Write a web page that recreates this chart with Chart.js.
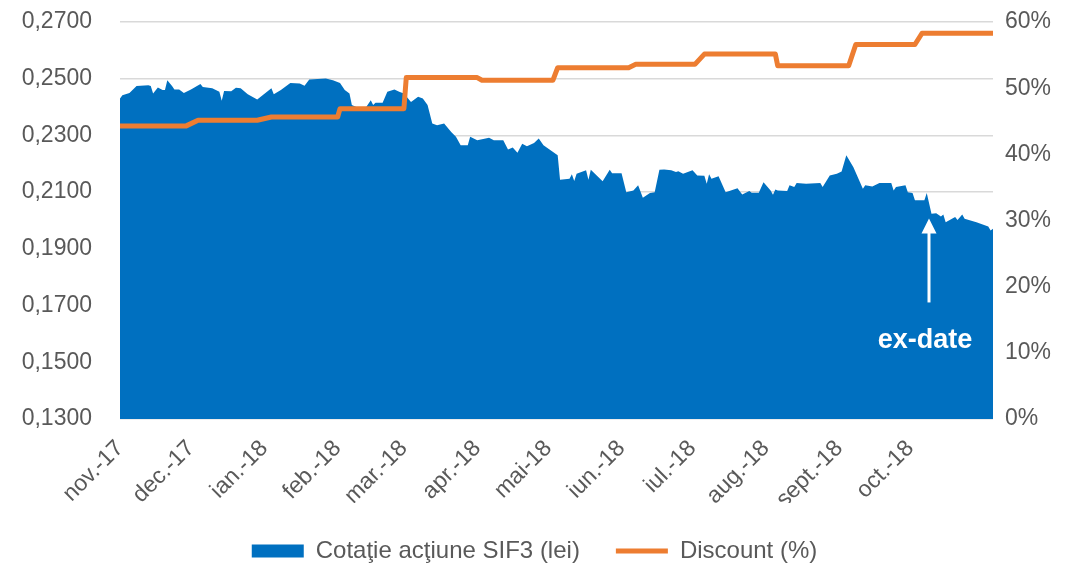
<!DOCTYPE html>
<html>
<head>
<meta charset="utf-8">
<script src="https://cdn.jsdelivr.net/npm/chart.js@4.4.1/dist/chart.umd.min.js"></script>
<style>
  body { margin: 0; background: #fff; }
</style>
</head>
<body>
<canvas id="chart" width="1069" height="565"></canvas>
<script>
// days counted from 1 nov. 2017
const priceDays = [0, 1, 4, 7, 12, 13, 14, 16, 18, 19, 20, 22, 23, 25, 27, 30, 34, 35, 39, 42, 43, 44, 47, 49, 51, 54, 58, 64, 65, 68, 72, 76, 78, 80, 87, 90, 93, 95, 97, 98, 101, 104, 106, 107, 108, 111, 113, 116, 118, 120, 123, 126, 128, 130, 132, 134, 137, 140, 142, 144, 147, 148, 151, 156, 158, 162, 164, 166, 168, 170, 172, 175, 177, 179, 182, 185, 186, 190, 191, 192, 193, 197, 198, 199, 204, 207, 208, 212, 214, 217, 219, 221, 224, 226, 228, 230, 233, 235, 236, 238, 242, 244, 247, 248, 249, 250, 253, 256, 261, 263, 266, 267, 270, 272, 275, 276, 277, 278, 282, 283, 285, 286, 290, 296, 297, 300, 303, 305, 307, 310, 314, 315, 318, 321, 326, 327, 328, 332, 333, 335, 336, 340, 341, 343, 345, 347, 348, 349, 353, 354, 356, 357, 362, 367, 368, 369];
const priceValues = [0.2430, 0.2442, 0.2450, 0.2474, 0.2477, 0.2474, 0.2448, 0.2469, 0.2460, 0.2460, 0.2495, 0.2474, 0.2462, 0.2462, 0.2450, 0.2462, 0.2481, 0.2471, 0.2466, 0.2454, 0.2422, 0.2457, 0.2456, 0.2468, 0.2466, 0.2445, 0.2427, 0.2466, 0.2445, 0.2460, 0.2485, 0.2483, 0.2475, 0.2497, 0.2501, 0.2495, 0.2485, 0.2460, 0.2448, 0.2407, 0.2396, 0.2399, 0.2424, 0.2407, 0.2415, 0.2415, 0.2454, 0.2462, 0.2454, 0.2448, 0.2418, 0.2436, 0.2430, 0.2407, 0.2342, 0.2336, 0.2342, 0.2312, 0.2295, 0.2265, 0.2265, 0.2295, 0.2283, 0.2292, 0.2283, 0.2283, 0.2250, 0.2257, 0.2239, 0.2271, 0.2262, 0.2273, 0.2289, 0.2265, 0.2248, 0.2230, 0.2144, 0.2147, 0.2163, 0.2139, 0.2165, 0.2177, 0.2144, 0.2179, 0.2138, 0.2179, 0.2167, 0.2167, 0.2100, 0.2106, 0.2124, 0.2080, 0.2097, 0.2100, 0.2179, 0.2180, 0.2177, 0.2171, 0.2174, 0.2165, 0.2177, 0.2159, 0.2158, 0.2130, 0.2163, 0.2147, 0.2156, 0.2100, 0.2114, 0.2092, 0.2104, 0.2098, 0.2098, 0.2135, 0.2106, 0.2091, 0.2109, 0.2106, 0.2104, 0.2124, 0.2118, 0.2132, 0.2130, 0.2132, 0.2118, 0.2159, 0.2165, 0.2173, 0.2230, 0.2188, 0.2112, 0.2124, 0.2120, 0.2132, 0.2132, 0.2106, 0.2118, 0.2124, 0.2100, 0.2097, 0.2071, 0.2071, 0.2097, 0.2024, 0.2026, 0.2014, 0.2021, 0.1994, 0.2012, 0.2002, 0.2021, 0.2006, 0.1994, 0.1979, 0.1965, 0.1971];

const discountDays = [0, 28, 33, 58, 64, 92, 93, 120, 121, 151, 153, 183, 185, 215, 218, 243, 247, 277, 278, 308, 311, 336, 339, 369];
const discountValues = [44.3, 44.3, 45.15, 45.15, 45.65, 45.65, 46.9, 46.9, 51.6, 51.6, 51.2, 51.2, 53.1, 53.1, 53.6, 53.6, 55.15, 55.15, 53.4, 53.4, 56.6, 56.6, 58.3, 58.3];

const monthDays = [0, 30, 61, 92, 120, 151, 181, 212, 242, 273, 304, 334];
const monthLabels = ["nov.-17", "dec.-17", "ian.-18", "feb.-18", "mar.-18", "apr.-18", "mai-18", "iun.-18", "iul.-18", "aug.-18", "sept.-18", "oct.-18"];
const priceTicks = [0.13, 0.15, 0.17, 0.19, 0.21, 0.23, 0.25, 0.27];
const discountTicks = [0, 10, 20, 30, 40, 50, 60];

// ex-date marker (arrow + label), in data units
const exDateDay = 342;
const arrowTop = 0.2007;
const arrowBottom = 0.1711;
const exDateLabelY = 0.1576;

const FONT = "'Liberation Sans', Arial, sans-serif";
const GREY = "#595959";

const exDatePlugin = {
  id: "exDate",
  afterDatasetsDraw(chart) {
    const {ctx, scales: {x, y}} = chart;
    const ax = Math.round(x.getPixelForValue(exDateDay));
    const top = y.getPixelForValue(arrowTop);
    const bottom = y.getPixelForValue(arrowBottom);
    ctx.save();
    ctx.fillStyle = "#fff";
    ctx.strokeStyle = "#fff";
    ctx.lineWidth = 3;
    ctx.beginPath();
    ctx.moveTo(ax, bottom);
    ctx.lineTo(ax, top + 12);
    ctx.stroke();
    ctx.beginPath();
    ctx.moveTo(ax, top);
    ctx.lineTo(ax - 7.5, top + 15);
    ctx.lineTo(ax + 7.5, top + 15);
    ctx.closePath();
    ctx.fill();
    ctx.font = "bold 27px " + FONT;
    ctx.textAlign = "center";
    ctx.textBaseline = "middle";
    ctx.fillText("ex-date", ax - 4, y.getPixelForValue(exDateLabelY));
    ctx.restore();
  },
};

// fixed axis sizes so the plot area lands where the reference has it
const fixSize = (w, h) => scale => {
  if (w !== null) scale.width = w;
  if (h !== null) scale.height = h;
  scale.paddingTop = 0;
  scale.paddingBottom = 0;
  scale.paddingLeft = 0;
  scale.paddingRight = 0;
};

new Chart(document.getElementById("chart"), {
  type: "line",
  data: {
    datasets: [{
      label: "Cotaţie acţiune SIF3 (lei)",
      data: priceDays.map((d, i) => ({x: d, y: priceValues[i]})),
      yAxisID: "y",
      fill: "start",
      backgroundColor: "#0070C0",
      borderColor: "#0070C0",
      borderWidth: 0,
      pointRadius: 0,
      pointStyle: "rect",
      order: 2,
    }, {
      label: "Discount (%)",
      data: discountDays.map((d, i) => ({x: d, y: discountValues[i]})),
      yAxisID: "y1",
      fill: false,
      borderColor: "#ED7D31",
      backgroundColor: "#ED7D31",
      borderWidth: 5,
      borderCapStyle: "round",
      borderJoinStyle: "round",
      pointRadius: 0,
      pointStyle: "line",
      order: 1,
    }],
  },
  options: {
    responsive: false,
    animation: false,
    devicePixelRatio: 1,
    layout: {padding: {top: 22, left: 0, right: 0, bottom: -8}},
    plugins: {
      tooltip: {enabled: false},
      legend: {
        position: "bottom",
        labels: {
          usePointStyle: true,
          pointStyleWidth: 52,
          boxHeight: 13,
          padding: 36,
          color: GREY,
          font: {family: FONT, size: 24},
          sort: (a, b) => a.datasetIndex - b.datasetIndex,
        },
      },
    },
    scales: {
      x: {
        type: "linear",
        min: 0,
        max: 369,
        grid: {display: false},
        border: {display: false},
        afterBuildTicks: scale => {
          scale.ticks = monthDays.map(v => ({value: v}));
        },
        afterFit: fixSize(null, 84),
        ticks: {
          autoSkip: false,
          minRotation: 45,
          maxRotation: 45,
          padding: 8,
          color: GREY,
          font: {family: FONT, size: 23},
          callback: (v, i) => monthLabels[i],
        },
      },
      y: {
        position: "left",
        min: 0.13,
        max: 0.27,
        grid: {color: "#D9D9D9", lineWidth: 1.5, drawTicks: false},
        border: {display: false},
        afterBuildTicks: scale => {
          scale.ticks = priceTicks.map(v => ({value: v}));
        },
        afterFit: fixSize(120, null),
        ticks: {
          padding: 28,
          color: GREY,
          font: {family: FONT, size: 23},
          callback: v => v.toFixed(4).replace(".", ","),
        },
      },
      y1: {
        position: "right",
        min: 0,
        max: 60,
        grid: {display: false, drawTicks: false},
        border: {display: false},
        afterBuildTicks: scale => {
          scale.ticks = discountTicks.map(v => ({value: v}));
        },
        afterFit: fixSize(76, null),
        ticks: {
          padding: 12,
          color: GREY,
          font: {family: FONT, size: 23},
          callback: v => v + "%",
        },
      },
    },
  },
  plugins: [exDatePlugin],
});
</script>
</body>
</html>
